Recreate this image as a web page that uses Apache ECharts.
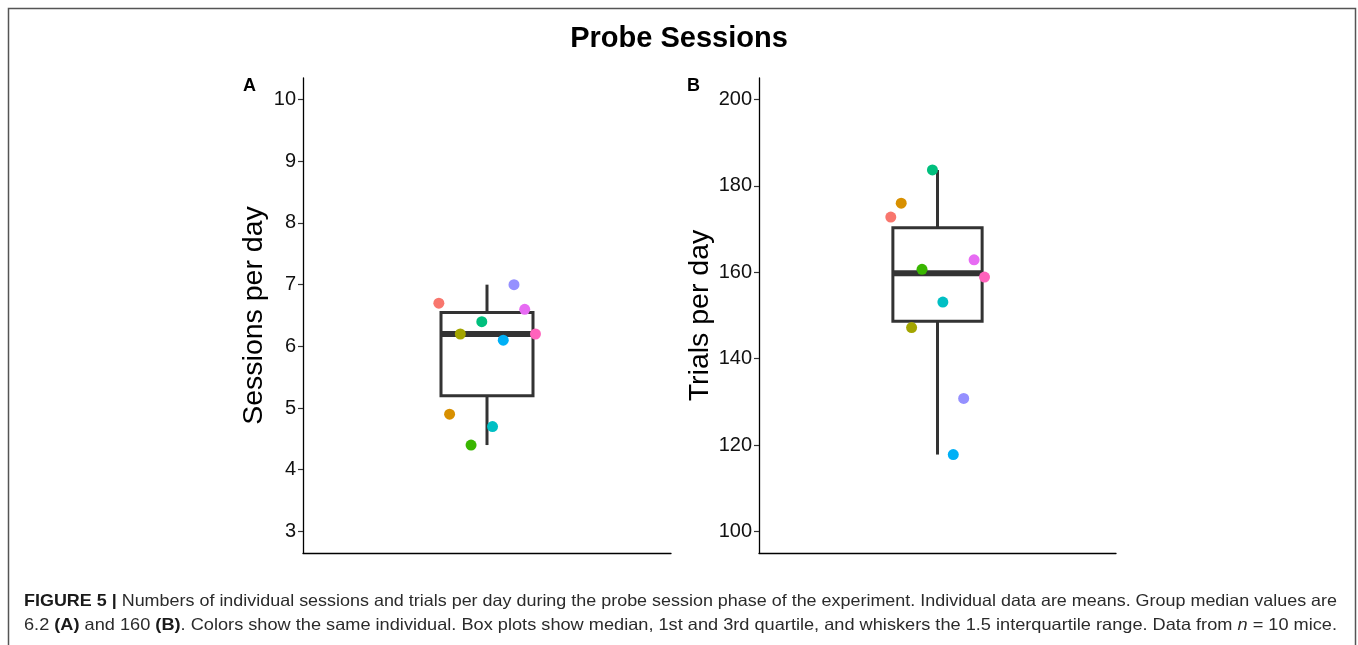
<!DOCTYPE html>
<html>
<head>
<meta charset="utf-8">
<script src="https://cdn.jsdelivr.net/npm/echarts@6/dist/echarts.min.js"></script>
<style>
html, body { margin: 0; padding: 0; background: #fff; }
#chart { width: 1358px; height: 645px; }
</style>
</head>
<body>
<div id="chart"></div>
<script>
// one colour per mouse (ggplot hue palette), same order in both panels
const mouseColors = ['#F8766D', '#D89000', '#A3A500', '#39B600', '#00BF7D', '#00BFC4', '#00B0F6', '#9590FF', '#E76BF3', '#FF62BC'];
const jitterX = [0.843, 0.878, 0.913, 0.948, 0.983, 1.018, 1.053, 1.088, 1.123, 1.158];
const sessionsPerDay = [6.7, 4.9, 6.2, 4.4, 6.4, 4.7, 6.1, 7.0, 6.6, 6.2];
const trialsPerDay = [172.8, 176.0, 147.2, 160.7, 183.7, 153.1, 117.8, 130.8, 162.9, 158.9];
const ticksA = [3, 4, 5, 6, 7, 8, 9, 10];
const ticksB = [100, 120, 140, 160, 180, 200];

const FONT = "'Liberation Sans', Arial, sans-serif";
const BOX_WIDTH = 0.3;
const BOX_COLOR = '#333333';

const quantile = (sorted, p) => {
    const pos = (sorted.length - 1) * p;
    const lo = Math.floor(pos);
    const hi = Math.ceil(pos);
    return sorted[lo] + (sorted[hi] - sorted[lo]) * (pos - lo);
};

// [x, lower whisker, q1, median, q3, upper whisker]
const boxStats = (values) => {
    const s = [...values].sort((a, b) => a - b);
    const q1 = quantile(s, 0.25);
    const med = quantile(s, 0.5);
    const q3 = quantile(s, 0.75);
    const iqr = q3 - q1;
    const low = Math.min(...s.filter(v => v >= q1 - 1.5 * iqr));
    const high = Math.max(...s.filter(v => v <= q3 + 1.5 * iqr));
    return [1, low, q1, med, q3, high];
};

const renderBox = (params, api) => {
    const x = api.value(0);
    const [cx, yLow] = api.coord([x, api.value(1)]);
    const yQ1 = api.coord([x, api.value(2)])[1];
    const yMed = api.coord([x, api.value(3)])[1];
    const yQ3 = api.coord([x, api.value(4)])[1];
    const yHigh = api.coord([x, api.value(5)])[1];
    const half = api.size([BOX_WIDTH, 0])[0] / 2;
    const stroke = { stroke: BOX_COLOR, lineWidth: 3 };
    return {
        type: 'group',
        children: [
            { type: 'line', shape: { x1: cx, y1: yQ3, x2: cx, y2: yHigh }, style: stroke },
            { type: 'line', shape: { x1: cx, y1: yQ1, x2: cx, y2: yLow }, style: stroke },
            {
                type: 'rect',
                shape: { x: cx - half, y: yQ3, width: half * 2, height: yQ1 - yQ3 },
                style: { stroke: BOX_COLOR, lineWidth: 3, fill: '#fff' },
            },
            {
                type: 'line',
                shape: { x1: cx - half, y1: yMed, x2: cx + half, y2: yMed },
                style: { stroke: BOX_COLOR, lineWidth: 6 },
            },
        ],
    };
};

const points = values => values.map((v, i) => ({
    value: [jitterX[i], v],
    itemStyle: { color: mouseColors[i], opacity: 1 },
}));

const makeY = (gridIndex, min, max, ticks, name, nameGap) => ({
    gridIndex,
    type: 'value',
    min,
    max,
    name,
    nameLocation: 'middle',
    nameRotate: 90,
    nameGap,
    nameTextStyle: { fontSize: 28.5, color: '#000', fontFamily: FONT },
    axisLine: { show: true, lineStyle: { color: '#000', width: 1.3 } },
    axisTick: { show: true, length: 5, customValues: ticks, lineStyle: { color: '#333', width: 1.2 } },
    axisLabel: { customValues: ticks, fontSize: 20, color: '#111', margin: 7, fontFamily: FONT },
    splitLine: { show: false },
});

const makeX = gridIndex => ({
    gridIndex,
    type: 'value',
    min: 0.4,
    max: 1.6,
    axisLine: { show: true, onZero: false, lineStyle: { color: '#000', width: 1.3 } },
    axisTick: { show: false },
    axisLabel: { show: false },
    splitLine: { show: false },
});

// squeeze caption lines to the justified width of the reference
const measure = document.createElement('canvas').getContext('2d');
const textWidth = (parts, size) => parts.reduce((w, [txt, weight, style]) => {
    measure.font = `${style || 'normal'} ${weight || 'normal'} ${size}px ${FONT}`;
    return w + measure.measureText(txt).width;
}, 0);
const CAPTION_SIZE = 16.5;
const CAPTION_LEFT = 24;
const CAPTION_WIDTH = 1313;
const line1Parts = [['FIGURE 5 |', 'bold'], [' Numbers of individual sessions and trials per day during the probe session phase of the experiment. Individual data are means. Group median values are']];
const line2Parts = [['6.2 '], ['(A)', 'bold'], [' and 160 '], ['(B)', 'bold'], ['. Colors show the same individual. Box plots show median, 1st and 3rd quartile, and whiskers the 1.5 interquartile range. Data from '], ['n', 'normal', 'italic'], [' = 10 mice.']];
const toRich = parts => parts.map(([txt, weight, style]) => (weight === 'bold' ? `{b|${txt}}` : style === 'italic' ? `{i|${txt}}` : txt)).join('');
const captionLine = (parts, y) => ({
    type: 'text',
    x: CAPTION_LEFT,
    y,
    scaleX: CAPTION_WIDTH / textWidth(parts, CAPTION_SIZE),
    style: {
        text: toRich(parts),
        fontSize: CAPTION_SIZE,
        fontFamily: FONT,
        fill: '#2b2b2b',
        verticalAlign: 'middle',
        rich: {
            b: { fontWeight: 'bold', fontSize: CAPTION_SIZE, fontFamily: FONT, fill: '#1a1a1a' },
            i: { fontStyle: 'italic', fontSize: CAPTION_SIZE, fontFamily: FONT, fill: '#2b2b2b' },
        },
    },
});

const chart = echarts.init(document.getElementById('chart'));
chart.setOption({
    backgroundColor: '#fff',
    animation: false,
    textStyle: { fontFamily: FONT },
    grid: [
        { left: 303, top: 78, width: 368, height: 475 },
        { left: 759, top: 78, width: 357, height: 475 },
    ],
    xAxis: [makeX(0), makeX(1)],
    yAxis: [
        makeY(0, 2.65, 10.35, ticksA, 'Sessions per day', 34),
        makeY(1, 95, 205, ticksB, 'Trials per day', 44),
    ],
    series: [
        {
            type: 'custom', xAxisIndex: 0, yAxisIndex: 0, renderItem: renderBox,
            encode: { x: 0, y: [1, 2, 3, 4, 5] }, data: [boxStats(sessionsPerDay)], z: 2,
        },
        {
            type: 'custom', xAxisIndex: 1, yAxisIndex: 1, renderItem: renderBox,
            encode: { x: 0, y: [1, 2, 3, 4, 5] }, data: [boxStats(trialsPerDay)], z: 2,
        },
        { type: 'scatter', xAxisIndex: 0, yAxisIndex: 0, symbolSize: 11, data: points(sessionsPerDay), z: 3 },
        { type: 'scatter', xAxisIndex: 1, yAxisIndex: 1, symbolSize: 11, data: points(trialsPerDay), z: 3 },
    ],
    graphic: [
        {
            type: 'rect', silent: true,
            shape: { x: 8.5, y: 8.5, width: 1347, height: 680 },
            style: { fill: null, stroke: '#555', lineWidth: 1.5 },
        },
        {
            type: 'text', x: 679, y: 39,
            style: { text: 'Probe Sessions', fontSize: 29, fontWeight: 'bold', fontFamily: FONT, fill: '#000', align: 'center', verticalAlign: 'middle' },
        },
        {
            type: 'text', x: 243, y: 77,
            style: { text: 'A', fontSize: 18, fontWeight: 'bold', fontFamily: FONT, fill: '#000', verticalAlign: 'top' },
        },
        {
            type: 'text', x: 687, y: 77,
            style: { text: 'B', fontSize: 18, fontWeight: 'bold', fontFamily: FONT, fill: '#000', verticalAlign: 'top' },
        },
        captionLine(line1Parts, 601),
        captionLine(line2Parts, 625),
    ],
});
</script>
</body>
</html>
